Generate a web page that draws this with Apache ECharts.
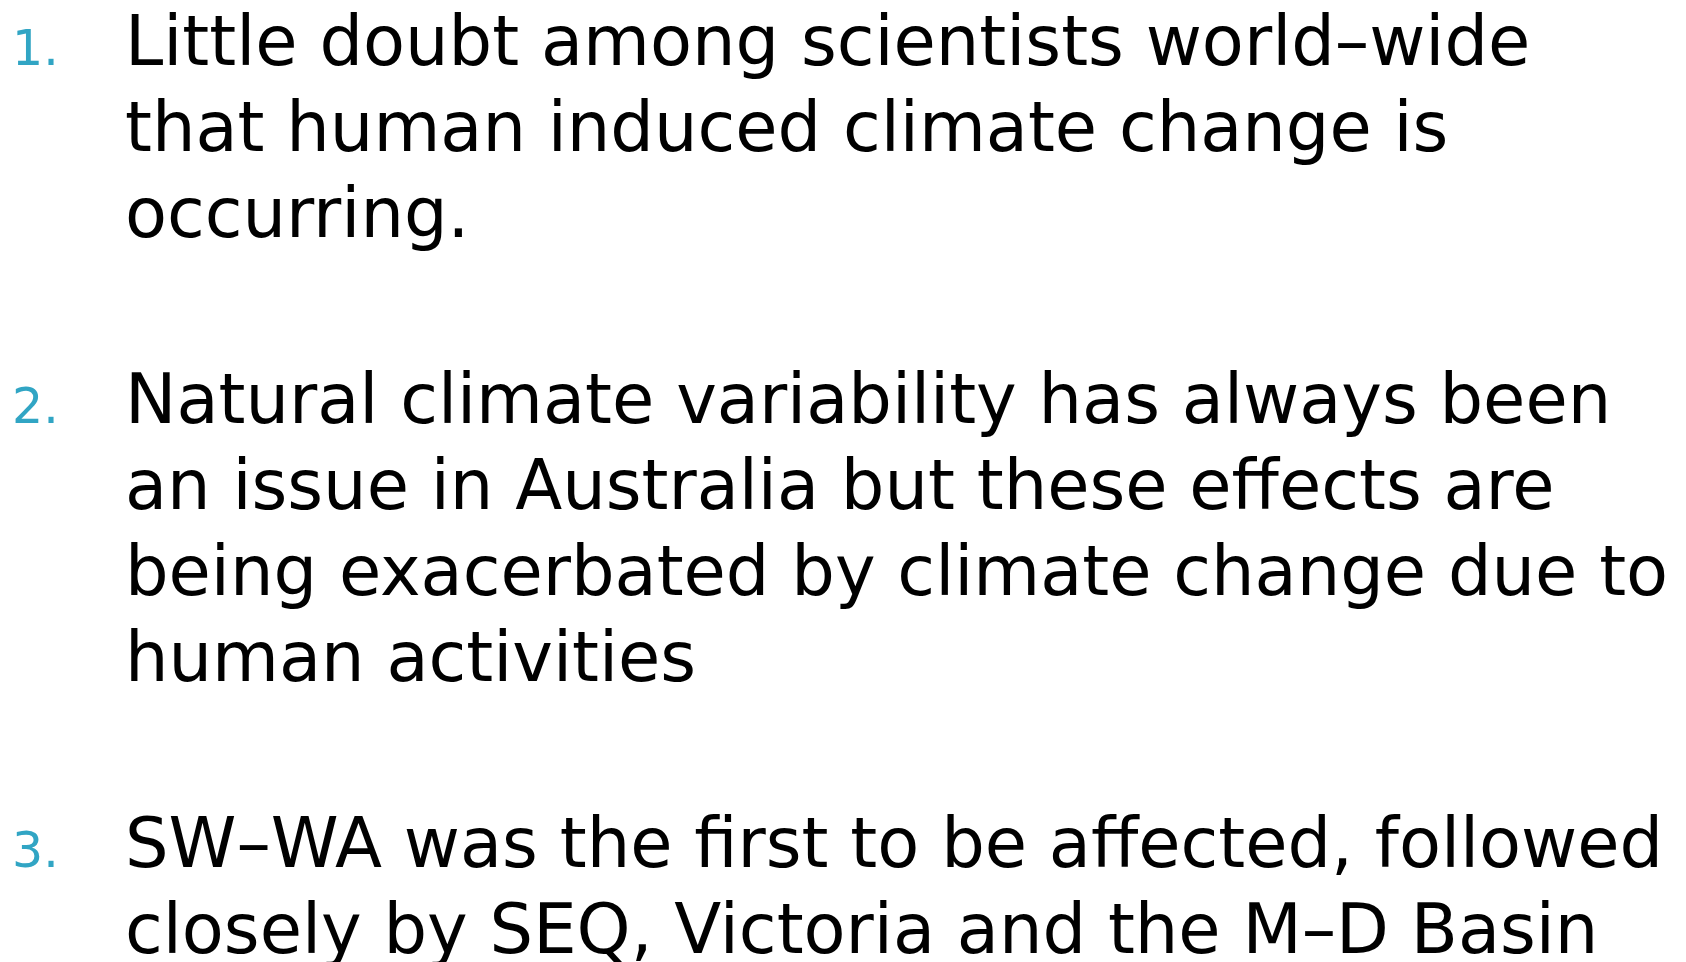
<!DOCTYPE html>
<html>
<head>
<meta charset="utf-8">
<title>slide</title>
<script src="https://cdn.jsdelivr.net/npm/echarts@6/dist/echarts.min.js"></script>
<style>
    html, body { margin: 0; padding: 0; background: #fff; }
    #main { width: 1686px; height: 962px; }
</style>
</head>
<body>
<div id="main"></div>
<script>
    // slide text
    const markers = ['1.', '2.', '3.'];
    const point1 = [
        'Little doubt among scientists world\u2013wide',
        'that human induced climate change is',
        'occurring.'
    ];
    const point2 = [
        'Natural climate variability has always been',
        'an issue in Australia but these effects are',
        'being exacerbated by climate change due to',
        'human activities'
    ];
    const point3 = [
        'SW\u2013WA was the first to be affected, followed',
        'closely by SEQ, Victoria and the M\u2013D Basin'
    ];
    const points = [point1, point2, point3];

    // layout
    const textLeft = 125;
    const numLeft = 12;
    const lineGap = 86;
    const itemGap = 100;
    const bodySize = 68.7;
    const numSize = 49;
    const font = 'DejaVu Sans';

    // top of a line box whose baseline sits at y
    function topFor(y, size) {
        return y - Math.round(size * 0.297) - size / 2 + 2;
    }

    const elements = [];
    let baseline = 65;
    points.forEach((lines, i) => {
        elements.push({
            type: 'text',
            left: numLeft,
            top: topFor(baseline, numSize),
            style: {
                text: markers[i],
                fill: '#31a5c4',
                font: numSize + 'px "' + font + '"',
                verticalAlign: 'top'
            }
        });
        lines.forEach((line, j) => {
            elements.push({
                type: 'text',
                left: textLeft,
                top: topFor(baseline, bodySize),
                style: {
                    text: line,
                    fill: '#000',
                    font: bodySize + 'px "' + font + '"',
                    verticalAlign: 'top'
                }
            });
            if (j < lines.length - 1) baseline += lineGap;
        });
        baseline += lineGap + itemGap;
    });

    const chart = echarts.init(document.getElementById('main'));
    chart.setOption({
        backgroundColor: '#ffffff',
        graphic: { elements: elements }
    });
</script>
</body>
</html>
